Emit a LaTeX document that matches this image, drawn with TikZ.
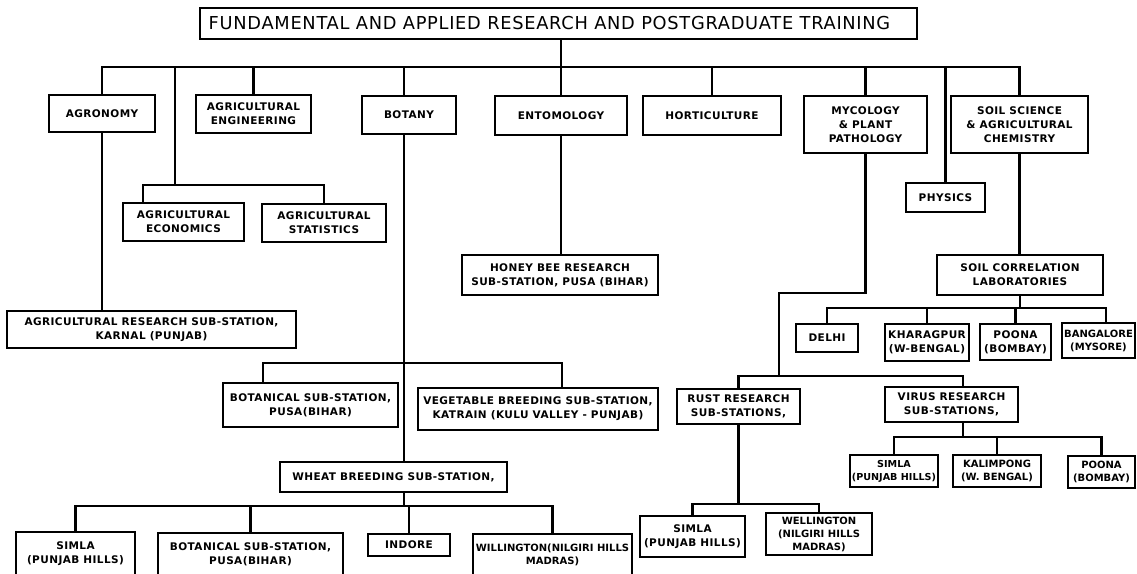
\documentclass[tikz,border=0pt]{standalone}
\usepackage{fontspec}
\newfontfamily\labfont[LetterSpace=4]{DejaVu Sans}
\newfontfamily\labtight[LetterSpace=0]{DejaVu Sans}
\newfontfamily\titfont[LetterSpace=4]{DejaVu Sans}
\newcommand\mkbox[7][]{\node[bx,#1,minimum width={#5-#3},minimum height={#6-#4}] (#2) at ({(#3+#5)/2},{(#4+#6)/2}) {#7};}
\tikzset{
  bx/.style={draw, line width=2.6pt, inner sep=0pt, align=center, font={\labfont\bfseries\fontsize{10.5}{14}\selectfont}},
  tight/.style={font={\labtight\bfseries\fontsize{10}{13}\selectfont}},
  tighter/.style={font={\labtight\bfseries\fontsize{9.6}{13}\selectfont}},
  ln/.style={line width=2.6pt},
}
\begin{document}
\begin{tikzpicture}[x=1pt,y=-1pt]
\useasboundingbox (0,0) rectangle (1137,573);
\clip (0,0) rectangle (1137,573);
\fill[white] (0,0) rectangle (1137,573);
% boxes
\mkbox[font={\titfont\fontsize{17.8}{19}\selectfont}]{title}{200}{8}{917}{39}{FUNDAMENTAL AND APPLIED RESEARCH AND POSTGRADUATE TRAINING\hspace*{18pt}}
\mkbox{agro}{49}{95}{155}{132}{AGRONOMY}
\mkbox{ageng}{196}{95}{311}{133}{AGRICULTURAL\\ENGINEERING}
\mkbox{botany}{362}{96}{456}{134}{BOTANY}
\mkbox{ento}{495}{96}{627}{135}{ENTOMOLOGY}
\mkbox{hort}{643}{96}{781}{135}{HORTICULTURE}
\mkbox{myco}{804}{96}{927}{153}{MYCOLOGY\\\& PLANT\\PATHOLOGY}
\mkbox{soil}{951}{96}{1088}{153}{SOIL SCIENCE\\\& AGRICULTURAL\\CHEMISTRY}
\mkbox{physics}{906}{183}{985}{212}{PHYSICS}
\mkbox{agecon}{123}{203}{244}{241}{AGRICULTURAL\\ECONOMICS}
\mkbox{agstat}{262}{204}{386}{242}{AGRICULTURAL\\STATISTICS}
\mkbox{karnal}{7}{311}{296}{348}{AGRICULTURAL RESEARCH SUB-STATION,\\KARNAL (PUNJAB)}
\mkbox{honey}{462}{255}{658}{295}{HONEY BEE RESEARCH\\SUB-STATION, PUSA (BIHAR)}
\mkbox{soilcorr}{937}{255}{1103}{295}{SOIL CORRELATION\\LABORATORIES}
\mkbox{delhi}{796}{324}{858}{352}{DELHI}
\mkbox{kharag}{885}{324}{969}{361}{KHARAGPUR\\(W-BENGAL)}
\mkbox{poonaa}{980}{324}{1051}{360}{POONA\\(BOMBAY)}
\mkbox[tight]{bang}{1062}{323}{1135}{358}{BANGALORE\\(MYSORE)}
\mkbox{botsuba}{223}{383}{398}{427}{BOTANICAL SUB-STATION,\\PUSA(BIHAR)}
\mkbox{veg}{418}{388}{658}{430}{VEGETABLE BREEDING SUB-STATION,\\KATRAIN (KULU VALLEY - PUNJAB)}
\mkbox{rust}{677}{389}{800}{424}{RUST RESEARCH\\SUB-STATIONS,}
\mkbox{virus}{885}{387}{1018}{422}{VIRUS RESEARCH\\SUB-STATIONS,}
\mkbox{wheat}{280}{462}{507}{492}{WHEAT BREEDING SUB-STATION,}
\mkbox[tighter]{simlav}{850}{455}{938}{487}{SIMLA\\(PUNJAB HILLS)}
\mkbox[tight]{kalim}{953}{455}{1041}{487}{KALIMPONG\\(W. BENGAL)}
\mkbox[tight]{poonab}{1068}{456}{1135}{488}{POONA\\(BOMBAY)}
\mkbox{simlar}{640}{516}{745}{557}{SIMLA\\(PUNJAB HILLS)}
\mkbox[tight]{welling}{766}{513}{872}{555}{WELLINGTON\\(NILGIRI HILLS\\MADRAS)}
\mkbox{simlaw}{16}{532}{135}{575}{SIMLA\\(PUNJAB HILLS)}
\mkbox{botsubb}{158}{533}{343}{575}{BOTANICAL SUB-STATION,\\PUSA(BIHAR)}
\mkbox{indore}{368}{534}{450}{556}{INDORE}
\mkbox[tight]{willing}{473}{534}{632}{576}{WILLINGTON(NILGIRI HILLS\\MADRAS)}
% helper coordinates
\coordinate (tb) at (0,67);
\coordinate (bx) at (404,0);
\coordinate (es) at (175,185);
\coordinate (ecx) at (143,0);
\coordinate (bb) at (0,363);
\coordinate (bax) at (263,0);
\coordinate (vgx) at (562,0);
\coordinate (wb) at (0,506);
\coordinate (mk) at (779,293);
\coordinate (vb) at (0,376);
\coordinate (vx) at (963,0);
\coordinate (rb) at (0,504);
\coordinate (vxb) at (0,437);
\coordinate (sb) at (0,308);
\coordinate (bgx) at (1106,0);
% connectors
\draw[ln] (agro.north) -- (agro.north |- tb) -- (soil.north |- tb) -- (soil.north);
\draw[ln] (ento.north |- title.south) -- (ento.north);
\draw[ln] (ageng.north) -- (ageng.north |- tb);
\draw[ln] (botany.north -| bx) -- (tb -| bx);
\draw[ln] (hort.north) -- (hort.north |- tb);
\draw[ln] (myco.north) -- (myco.north |- tb);
\draw[ln] (physics.north) -- (physics.north |- tb);
\draw[ln] (tb -| es) -- (es);
\draw[ln] (agecon.north -| ecx) -- (es -| ecx) -- (es -| agstat.north) -- (agstat.north);
\draw[ln] (agro.south) -- (agro.south |- karnal.north);
\draw[ln] (botany.south -| bx) -- (wheat.north -| bx);
\draw[ln] (botsuba.north -| bax) -- (bb -| bax) -- (bb -| vgx) -- (veg.north -| vgx);
\draw[ln] (wheat.south -| bx) -- (wb -| bx);
\draw[ln] (simlaw.north) -- (simlaw.north |- wb) -- (willing.north |- wb) -- (willing.north);
\draw[ln] (botsubb.north) -- (botsubb.north |- wb);
\draw[ln] (indore.north) -- (indore.north |- wb);
\draw[ln] (ento.south) -- (ento.south |- honey.north);
\draw[ln] (myco.south) -- (myco.south |- mk) -- (mk) -- (mk |- vb);
\draw[ln] (rust.north) -- (rust.north |- vb) -- (vb -| vx) -- (virus.north -| vx);
\draw[ln] (rust.south) -- (rust.south |- rb);
\draw[ln] (simlar.north) -- (simlar.north |- rb) -- (welling.north |- rb) -- (welling.north);
\draw[ln] (virus.south -| vx) -- (vxb -| vx);
\draw[ln] (simlav.north) -- (simlav.north |- vxb) -- (poonab.north |- vxb) -- (poonab.north);
\draw[ln] (kalim.north) -- (kalim.north |- vxb);
\draw[ln] (soil.south) -- (soil.south |- soilcorr.north);
\draw[ln] (soilcorr.south) -- (soilcorr.south |- sb);
\draw[ln] (delhi.north) -- (delhi.north |- sb) -- (sb -| bgx) -- (bang.north -| bgx);
\draw[ln] (kharag.north) -- (kharag.north |- sb);
\draw[ln] (poonaa.north) -- (poonaa.north |- sb);
\end{tikzpicture}
\end{document}
